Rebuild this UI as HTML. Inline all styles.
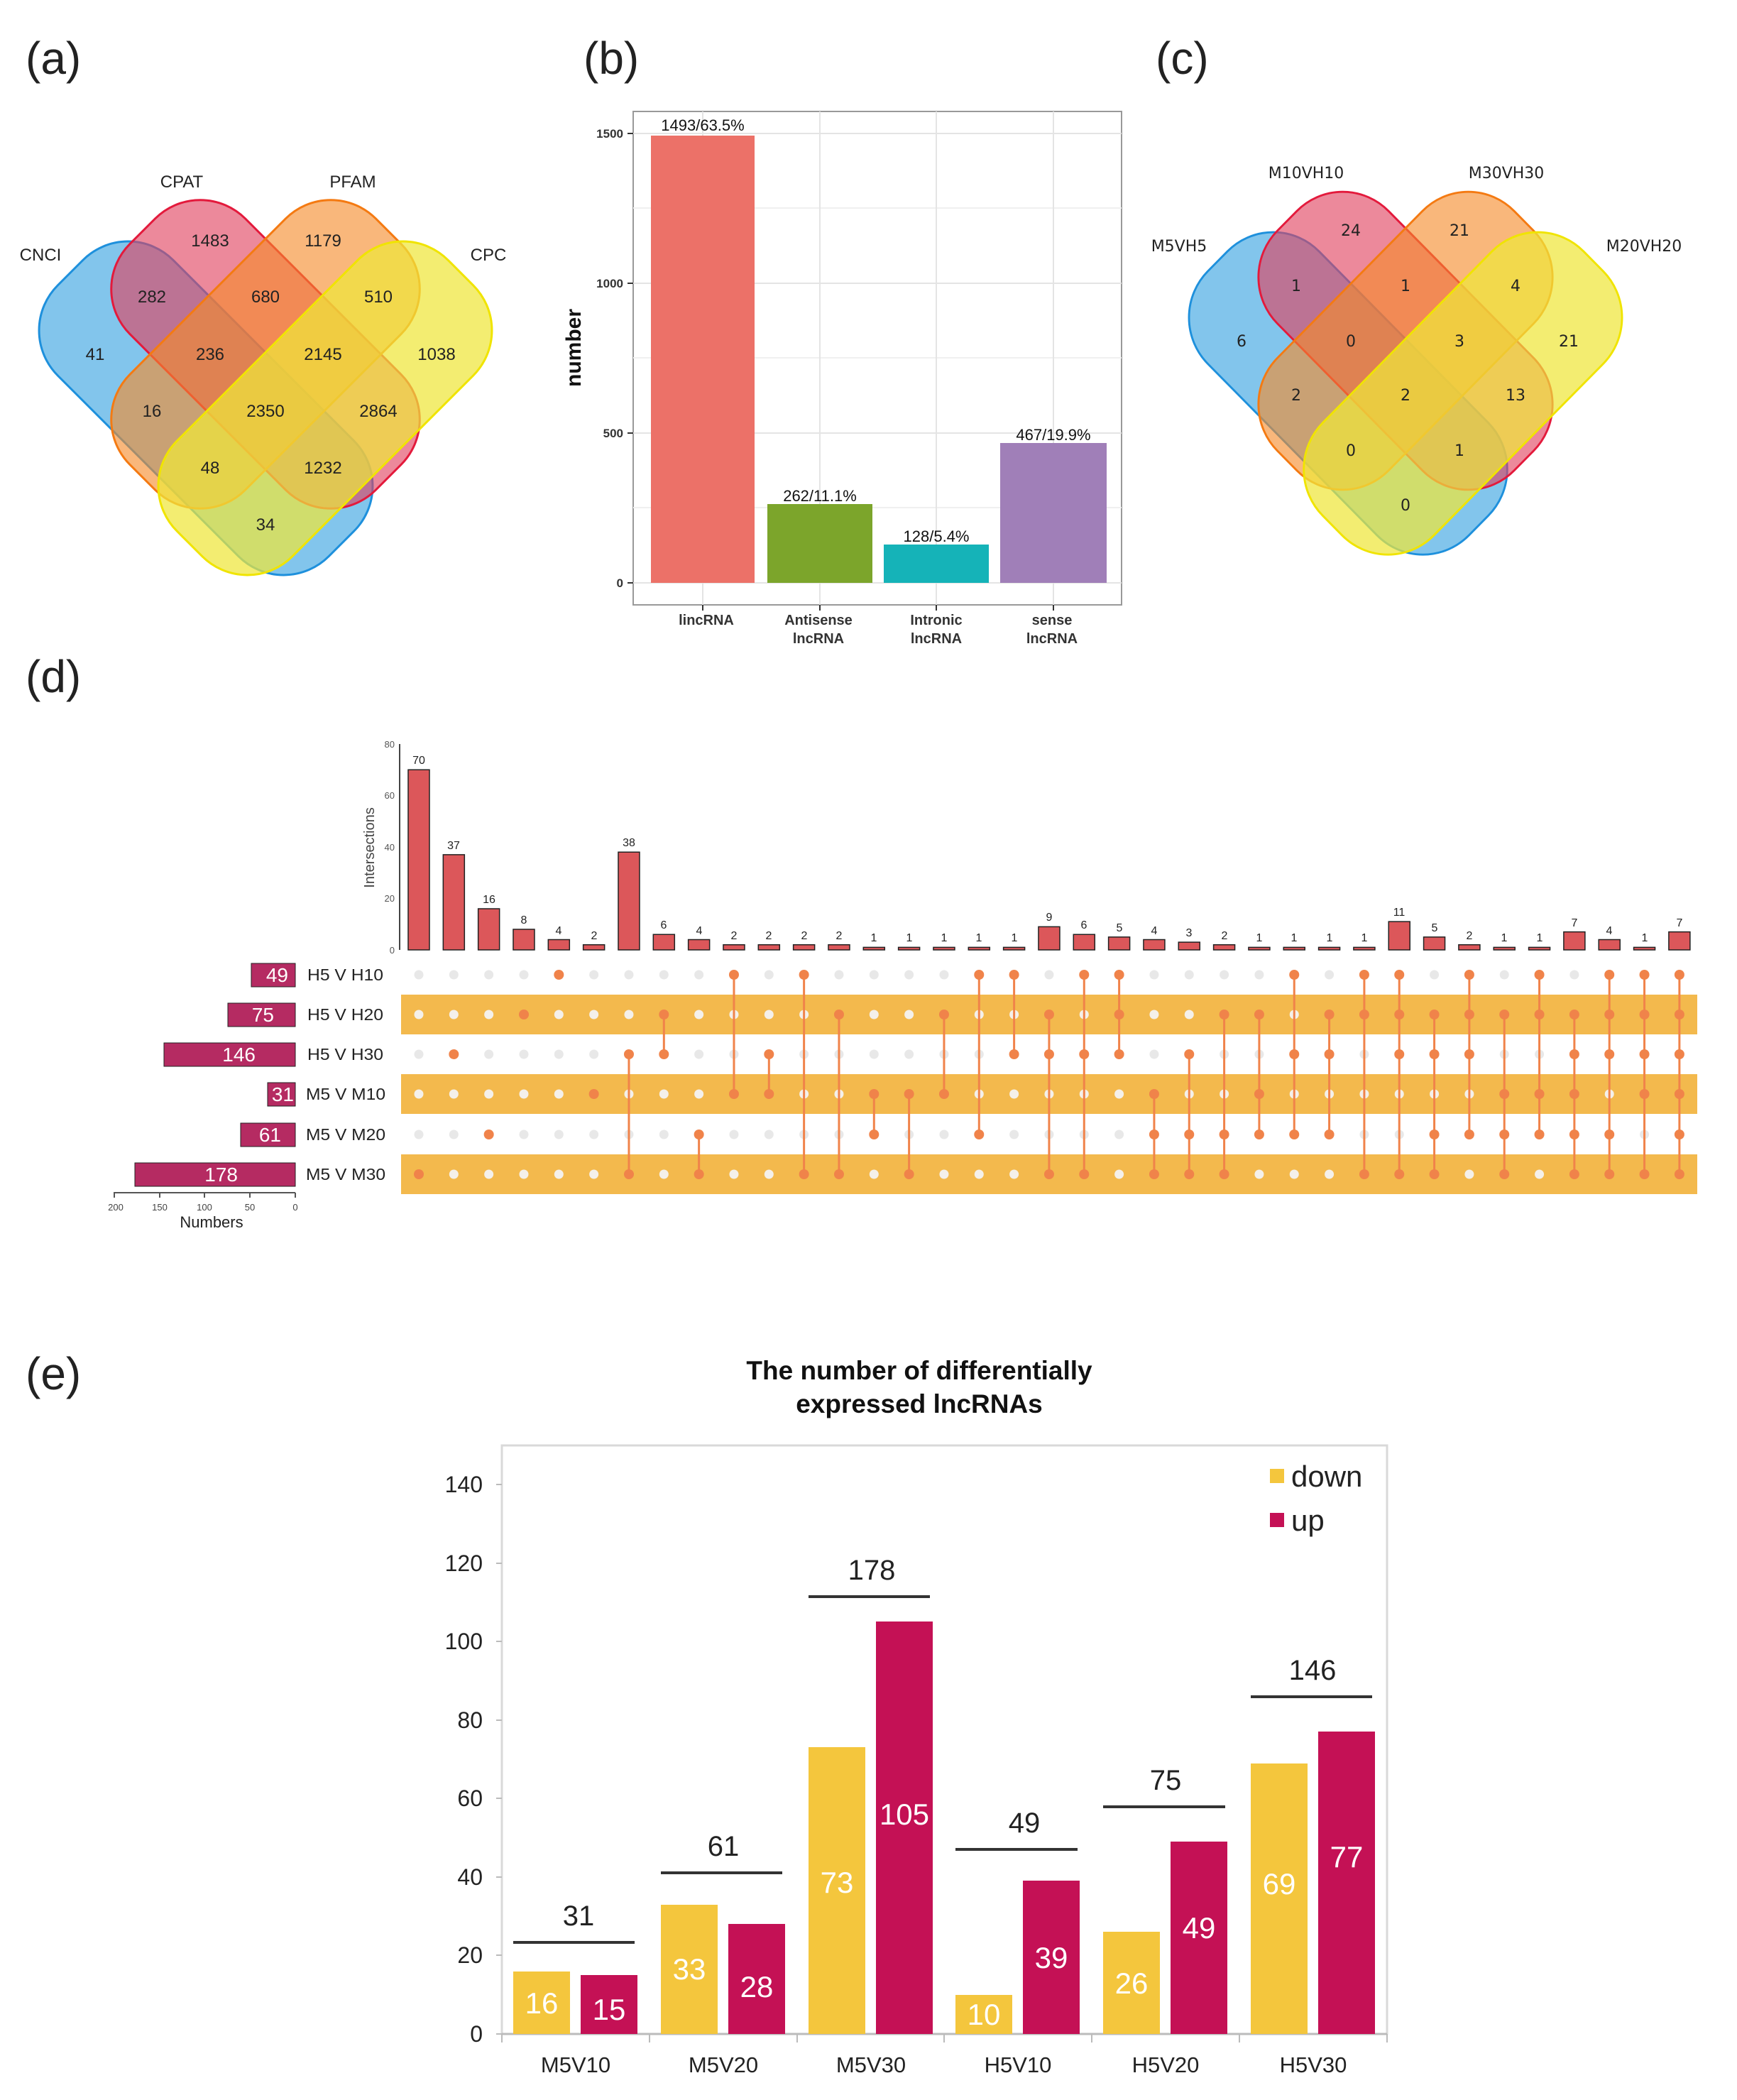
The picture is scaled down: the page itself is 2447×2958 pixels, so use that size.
<!DOCTYPE html>
<html><head><meta charset="utf-8"><style>
html,body{margin:0;padding:0;background:#fff;}
svg{display:block;font-family:"Liberation Sans",Arial,sans-serif;}
</style></head><body>
<svg id="s" width="2447" height="2958" viewBox="0 0 2447 2958" xmlns="http://www.w3.org/2000/svg">
<rect width="2447" height="2958" fill="#fff"/>
<g font-size="64" fill="#222">
<text x="36" y="104">(a)</text>
<text x="822" y="104">(b)</text>
<text x="1628" y="104">(c)</text>
<text x="36" y="975">(d)</text>
<text x="36" y="1957">(e)</text>
</g>

<!-- (a) Venn -->
<g>
<rect transform="translate(290,575) rotate(45)" x="-270" y="-115" width="540" height="230" rx="90" fill="#2e9fe0" fill-opacity="0.6" stroke="#1e90dc" stroke-width="3"/>
<rect transform="translate(374,499) rotate(45)" x="-245" y="-115" width="490" height="230" rx="90" fill="#e0405e" fill-opacity="0.62" stroke="#e31a3c" stroke-width="3"/>
<rect transform="translate(374,499) rotate(-45)" x="-245" y="-115" width="490" height="230" rx="90" fill="#f58a2a" fill-opacity="0.62" stroke="#f47a12" stroke-width="3"/>
<rect transform="translate(458,575) rotate(-45)" x="-270" y="-115" width="540" height="230" rx="90" fill="#eee63a" fill-opacity="0.72" stroke="#f0e400" stroke-width="3"/>
</g>
<g font-size="24" fill="#222" text-anchor="middle">
<text x="57" y="367">CNCI</text><text x="256" y="264">CPAT</text><text x="497" y="264">PFAM</text><text x="688" y="367">CPC</text>
<text x="296" y="347">1483</text><text x="455" y="347">1179</text>
<text x="214" y="426">282</text><text x="374" y="426">680</text><text x="533" y="426">510</text>
<text x="134" y="507">41</text><text x="296" y="507">236</text><text x="455" y="507">2145</text><text x="615" y="507">1038</text>
<text x="214" y="587">16</text><text x="374" y="587">2350</text><text x="533" y="587">2864</text>
<text x="296" y="667">48</text><text x="455" y="667">1232</text>
<text x="374" y="747">34</text>
</g>

<!-- (c) Venn -->
<g transform="translate(1980,480) scale(0.9625,0.975) translate(-374,-499)">
<rect transform="translate(290,575) rotate(45)" x="-270" y="-115" width="540" height="230" rx="95" fill="#2e9fe0" fill-opacity="0.6" stroke="#1e90dc" stroke-width="3"/>
<rect transform="translate(374,499) rotate(45)" x="-245" y="-115" width="490" height="230" rx="95" fill="#e0405e" fill-opacity="0.62" stroke="#e31a3c" stroke-width="3"/>
<rect transform="translate(374,499) rotate(-45)" x="-245" y="-115" width="490" height="230" rx="95" fill="#f58a2a" fill-opacity="0.62" stroke="#f47a12" stroke-width="3"/>
<rect transform="translate(458,575) rotate(-45)" x="-270" y="-115" width="540" height="230" rx="95" fill="#eee63a" fill-opacity="0.72" stroke="#f0e400" stroke-width="3"/>
</g>
<g font-size="22" fill="#222" text-anchor="middle" font-family="DejaVu Sans, sans-serif">
<text x="1661" y="354">M5VH5</text><text x="1840" y="251">M10VH10</text><text x="2122" y="251">M30VH30</text><text x="2316" y="354">M20VH20</text>
<text x="1903" y="332">24</text><text x="2056" y="332">21</text>
<text x="1826" y="410">1</text><text x="1980" y="410">1</text><text x="2135" y="410">4</text>
<text x="1749" y="488">6</text><text x="1903" y="488">0</text><text x="2056" y="488">3</text><text x="2210" y="488">21</text>
<text x="1826" y="564">2</text><text x="1980" y="564">2</text><text x="2135" y="564">13</text>
<text x="1903" y="642">0</text><text x="2056" y="642">1</text>
<text x="1980" y="719">0</text>
</g>

<!-- (b) bar chart -->
<g>
<rect x="892" y="157" width="688" height="695" fill="#fff" stroke="#999" stroke-width="2"/>
<g stroke="#f0f0f0" stroke-width="2">
<line x1="892" x2="1580" y1="715" y2="715"/><line x1="892" x2="1580" y1="504" y2="504"/><line x1="892" x2="1580" y1="293" y2="293"/>
</g>
<g stroke="#e4e4e4" stroke-width="2">
<line x1="892" x2="1580" y1="821" y2="821"/><line x1="892" x2="1580" y1="610" y2="610"/><line x1="892" x2="1580" y1="399" y2="399"/><line x1="892" x2="1580" y1="188" y2="188"/>
<line x1="990" x2="990" y1="157" y2="852"/><line x1="1155" x2="1155" y1="157" y2="852"/><line x1="1319" x2="1319" y1="157" y2="852"/><line x1="1484" x2="1484" y1="157" y2="852"/>
</g>
<rect x="917" y="191" width="146" height="630" fill="#ec7168"/>
<rect x="1081" y="710" width="148" height="111" fill="#7ca52b"/>
<rect x="1245" y="767" width="148" height="54" fill="#15b3b8"/>
<rect x="1409" y="624" width="150" height="197" fill="#a07fb8"/>
<g font-size="22" fill="#111" text-anchor="middle">
<text x="990" y="184">1493/63.5%</text><text x="1155" y="706">262/11.1%</text><text x="1319" y="763">128/5.4%</text><text x="1484" y="620">467/19.9%</text>
</g>
<g font-size="17" font-weight="bold" fill="#333" text-anchor="end">
<text x="878" y="194">1500</text><text x="878" y="405">1000</text><text x="878" y="616">500</text><text x="878" y="827">0</text>
</g>
<g stroke="#333" stroke-width="2"><line x1="884" x2="892" y1="188" y2="188"/><line x1="884" x2="892" y1="399" y2="399"/><line x1="884" x2="892" y1="610" y2="610"/><line x1="884" x2="892" y1="821" y2="821"/>
<line x1="990" x2="990" y1="852" y2="860"/><line x1="1155" x2="1155" y1="852" y2="860"/><line x1="1319" x2="1319" y1="852" y2="860"/><line x1="1484" x2="1484" y1="852" y2="860"/></g>
<g font-size="20" font-weight="bold" fill="#333" text-anchor="middle">
<text x="995" y="880">lincRNA</text>
<text x="1153" y="880">Antisense</text><text x="1153" y="906">lncRNA</text>
<text x="1319" y="880">Intronic</text><text x="1319" y="906">lncRNA</text>
<text x="1482" y="880">sense</text><text x="1482" y="906">lncRNA</text>
</g>
<text transform="translate(818,490) rotate(-90)" font-size="30" font-weight="bold" fill="#111" text-anchor="middle">number</text>
</g>

<!-- (d) UpSet -->
<g>
<rect x="565" y="1401" width="1826" height="56" fill="#f3b94d"/>
<rect x="565" y="1513" width="1826" height="56" fill="#f3b94d"/>
<rect x="565" y="1626" width="1826" height="56" fill="#f3b94d"/>
<g id="ug"></g>
<line x1="563" y1="1048" x2="563" y2="1338" stroke="#444" stroke-width="2"/>
<g font-size="13" fill="#555" text-anchor="end">
<text x="556" y="1343">0</text><text x="556" y="1270">20</text><text x="556" y="1198">40</text><text x="556" y="1125">60</text><text x="556" y="1053">80</text>
</g>
<text transform="translate(527,1194) rotate(-90)" font-size="20" fill="#444" text-anchor="middle">Intersections</text>
<g font-size="16" fill="#222" text-anchor="middle">
<text x="590" y="1076">70</text><text x="639" y="1196">37</text><text x="689" y="1272">16</text><text x="738" y="1301">8</text><text x="787" y="1316">4</text><text x="837" y="1323">2</text><text x="886" y="1192">38</text><text x="935" y="1308">6</text><text x="985" y="1316">4</text><text x="1034" y="1323">2</text><text x="1083" y="1323">2</text><text x="1133" y="1323">2</text><text x="1182" y="1323">2</text><text x="1231" y="1326">1</text><text x="1281" y="1326">1</text><text x="1330" y="1326">1</text><text x="1379" y="1326">1</text><text x="1429" y="1326">1</text><text x="1478" y="1297">9</text><text x="1527" y="1308">6</text><text x="1577" y="1312">5</text><text x="1626" y="1316">4</text><text x="1675" y="1319">3</text><text x="1725" y="1323">2</text><text x="1774" y="1326">1</text><text x="1823" y="1326">1</text><text x="1873" y="1326">1</text><text x="1922" y="1326">1</text><text x="1971" y="1290">11</text><text x="2021" y="1312">5</text><text x="2070" y="1323">2</text><text x="2119" y="1326">1</text><text x="2169" y="1326">1</text><text x="2218" y="1305">7</text><text x="2267" y="1316">4</text><text x="2317" y="1326">1</text><text x="2366" y="1305">7</text>
</g>
<g fill="#b52b62" stroke="#222" stroke-width="1">
<rect x="354" y="1357" width="62" height="33"/>
<rect x="321" y="1413" width="95" height="33"/>
<rect x="231" y="1469" width="185" height="33"/>
<rect x="377" y="1525" width="39" height="33"/>
<rect x="339" y="1582" width="77" height="33"/>
<rect x="190" y="1638" width="226" height="33"/>
</g>
<g font-size="28" fill="#fff" text-anchor="end">
<text x="406" y="1383">49</text><text x="386" y="1439">75</text><text x="360" y="1495">146</text><text x="414" y="1551">31</text><text x="396" y="1608">61</text><text x="335" y="1664">178</text>
</g>
<g font-size="23" fill="#222">
<text x="433" y="1381" textLength="107" lengthAdjust="spacingAndGlyphs">H5 V H10</text>
<text x="433" y="1437" textLength="107" lengthAdjust="spacingAndGlyphs">H5 V H20</text>
<text x="433" y="1493" textLength="107" lengthAdjust="spacingAndGlyphs">H5 V H30</text>
<text x="431" y="1549" textLength="112" lengthAdjust="spacingAndGlyphs">M5 V M10</text>
<text x="431" y="1606" textLength="112" lengthAdjust="spacingAndGlyphs">M5 V M20</text>
<text x="431" y="1662" textLength="112" lengthAdjust="spacingAndGlyphs">M5 V M30</text>
</g>
<line x1="160" y1="1680" x2="416" y2="1680" stroke="#555" stroke-width="2"/>
<g stroke="#555" stroke-width="2"><line x1="161" x2="161" y1="1680" y2="1687"/><line x1="225" x2="225" y1="1680" y2="1687"/><line x1="288" x2="288" y1="1680" y2="1687"/><line x1="352" x2="352" y1="1680" y2="1687"/><line x1="416" x2="416" y1="1680" y2="1687"/></g>
<g font-size="13" fill="#444" text-anchor="middle"><text x="163" y="1705">200</text><text x="225" y="1705">150</text><text x="288" y="1705">100</text><text x="352" y="1705">50</text><text x="416" y="1705">0</text></g>
<text x="298" y="1729" font-size="22" fill="#222" text-anchor="middle">Numbers</text>
</g>

<!-- (e) -->
<g>
<text x="1295" y="1943" font-size="37" font-weight="bold" text-anchor="middle" fill="#111">The number of differentially</text>
<text x="1295" y="1990" font-size="37" font-weight="bold" text-anchor="middle" fill="#111">expressed lncRNAs</text>
<rect x="707" y="2036" width="1247" height="829" fill="none" stroke="#d9d9d9" stroke-width="3"/>
<line x1="707" y1="2865" x2="1954" y2="2865" stroke="#bbb" stroke-width="3"/>
<g stroke="#bbb" stroke-width="2">
<line x1="707" x2="707" y1="2865" y2="2877"/><line x1="915" x2="915" y1="2865" y2="2877"/><line x1="1123" x2="1123" y1="2865" y2="2877"/><line x1="1330" x2="1330" y1="2865" y2="2877"/><line x1="1538" x2="1538" y1="2865" y2="2877"/><line x1="1746" x2="1746" y1="2865" y2="2877"/><line x1="1954" x2="1954" y1="2865" y2="2877"/>
<line x1="699" x2="707" y1="2865" y2="2865"/><line x1="699" x2="707" y1="2754" y2="2754"/><line x1="699" x2="707" y1="2644" y2="2644"/><line x1="699" x2="707" y1="2533" y2="2533"/><line x1="699" x2="707" y1="2423" y2="2423"/><line x1="699" x2="707" y1="2312" y2="2312"/><line x1="699" x2="707" y1="2202" y2="2202"/><line x1="699" x2="707" y1="2091" y2="2091"/>
</g>
<g font-size="32" fill="#222" text-anchor="end">
<text x="680" y="2876">0</text><text x="680" y="2765">20</text><text x="680" y="2655">40</text><text x="680" y="2544">60</text><text x="680" y="2434">80</text><text x="680" y="2323">100</text><text x="680" y="2213">120</text><text x="680" y="2102">140</text>
</g>
<g fill="#f4c63d">
<rect x="723" y="2777" width="80" height="88"/>
<rect x="931" y="2683" width="80" height="182"/>
<rect x="1139" y="2461" width="80" height="404"/>
<rect x="1346" y="2810" width="80" height="55"/>
<rect x="1554" y="2721" width="80" height="144"/>
<rect x="1762" y="2484" width="80" height="381"/>
</g>
<g fill="#c41155">
<rect x="818" y="2782" width="80" height="83"/>
<rect x="1026" y="2710" width="80" height="155"/>
<rect x="1234" y="2284" width="80" height="581"/>
<rect x="1441" y="2649" width="80" height="216"/>
<rect x="1649" y="2594" width="80" height="271"/>
<rect x="1857" y="2439" width="80" height="426"/>
</g>
<g font-size="42" fill="#fff" text-anchor="middle">
<text x="763" y="2836">16</text><text x="858" y="2845">15</text>
<text x="971" y="2788">33</text><text x="1066" y="2813">28</text>
<text x="1179" y="2666">73</text><text x="1274" y="2570">105</text>
<text x="1386" y="2852">10</text><text x="1481" y="2772">39</text>
<text x="1594" y="2808">26</text><text x="1689" y="2730">49</text>
<text x="1802" y="2668">69</text><text x="1897" y="2630">77</text>
</g>
<g stroke="#333" stroke-width="4">
<line x1="723" x2="894" y1="2736" y2="2736"/><line x1="931" x2="1102" y1="2638" y2="2638"/><line x1="1139" x2="1310" y1="2249" y2="2249"/>
<line x1="1346" x2="1518" y1="2605" y2="2605"/><line x1="1554" x2="1726" y1="2545" y2="2545"/><line x1="1762" x2="1933" y1="2390" y2="2390"/>
</g>
<g font-size="40" fill="#222" text-anchor="middle">
<text x="815" y="2712">31</text><text x="1019" y="2614">61</text><text x="1228" y="2225">178</text><text x="1443" y="2581">49</text><text x="1642" y="2521">75</text><text x="1849" y="2366">146</text>
</g>
<g font-size="31" fill="#222" text-anchor="middle">
<text x="811" y="2919">M5V10</text><text x="1019" y="2919">M5V20</text><text x="1227" y="2919">M5V30</text><text x="1434" y="2919">H5V10</text><text x="1642" y="2919">H5V20</text><text x="1850" y="2919">H5V30</text>
</g>
<rect x="1789" y="2069" width="20" height="20" fill="#f4c63d"/>
<rect x="1789" y="2131" width="20" height="20" fill="#c41155"/>
<text x="1819" y="2094" font-size="42" fill="#222">down</text>
<text x="1819" y="2156" font-size="42" fill="#222">up</text>
</g>
</svg>
<script>
(function(){
var NS='http://www.w3.org/2000/svg';
var g=document.getElementById('ug');
function el(tag,attrs){var e=document.createElementNS(NS,tag);for(var k in attrs){e.setAttribute(k,String(attrs[k]));}g.appendChild(e);return e;}
var vals=[70,37,16,8,4,2,38,6,4,2,2,2,2,1,1,1,1,1,9,6,5,4,3,2,1,1,1,1,11,5,2,1,1,7,4,1,7];
var mem=[[6],[3],[5],[2],[1],[4],[3,6],[2,3],[5,6],[1,4],[3,4],[1,6],[2,6],[4,5],[4,6],[2,4],[1,5],[1,3],[2,3,6],[1,3,6],[1,2,3],[4,5,6],[3,5,6],[2,5,6],[2,4,5],[1,3,5],[2,3,5],[1,2,6],[1,2,3,6],[2,3,5,6],[1,2,3,5],[2,4,5,6],[1,2,4,5],[2,3,4,5,6],[1,2,3,5,6],[1,2,3,4,6],[1,2,3,4,5,6]];
var ry=[0,1373,1429,1485,1541,1598,1654];
for(var i=0;i<37;i++){
 var x=590+i*49.33,v=vals[i],bh=v*3.625;
 el('rect',{x:x-15,y:1338-bh,width:30,height:bh,fill:'#dc575a',stroke:'#222','stroke-width':1.5});
 var m=mem[i];
 for(var r=1;r<=6;r++){ if(m.indexOf(r)<0) el('circle',{cx:x,cy:ry[r],r:6.5,fill:(r%2==0?'#f4f0ea':'#e8e8e8')}); }
 if(m.length>1) el('line',{x1:x,x2:x,y1:ry[m[0]],y2:ry[m[m.length-1]],stroke:'#f0834a','stroke-width':3});
 for(var k=0;k<m.length;k++) el('circle',{cx:x,cy:ry[m[k]],r:7,fill:'#f0834a'});
}
})();
</script>
</body></html>
